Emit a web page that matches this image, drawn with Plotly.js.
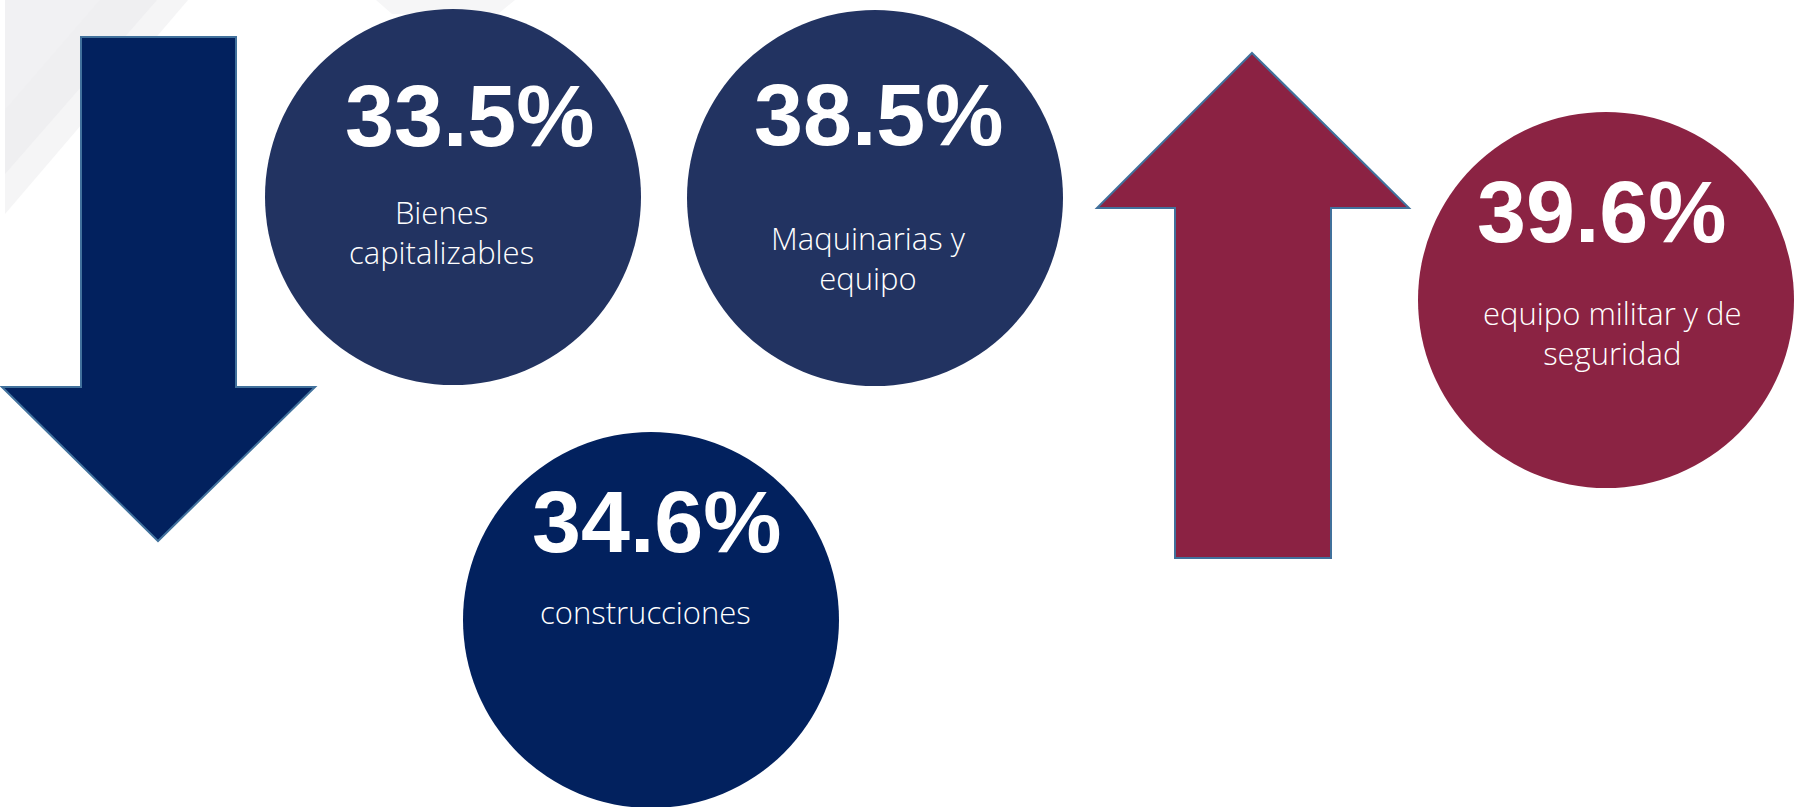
<!DOCTYPE html>
<html>
<head>
<meta charset="utf-8">
<script src="https://cdn.plot.ly/plotly-3.0.1.min.js"></script>
<style>
html,body{margin:0;padding:0;background:#ffffff;overflow:hidden;}
#chart{width:1799px;height:807px;}
</style>
</head>
<body>
<div id="chart"></div>
<script>
// ---- data ----
const categories = ["Bienes<br>capitalizables", "Maquinarias y<br>equipo", "construcciones", "equipo militar y de<br>seguridad"];
const values = [33.5, 38.5, 34.6, 39.6];
const direction = ["down", "down", "down", "up"];

// ---- layout (pixel space) ----
const W = 1799, H = 807;
const circleCenters = [[453, 197], [875, 198], [651, 620], [1606, 300]];
const circleR = 188;
const circleColors = ["#223361", "#223361", "#02215E", "#8B2343"];
const pctPos = [[470, 115], [879, 114], [657, 521], [1602, 211]];
const lblPos = [[441, 232], [868, 258], [645, 612], [1612, 333]];

const shapes = [];
// background faint diagonal stripes
shapes.push({type:"path", path:"M 5,0 L 188,0 L 5,214 Z", fillcolor:"#f5f5f6", line:{width:0}, layer:"below", xref:"x", yref:"y"});
shapes.push({type:"path", path:"M 5,0 L 157,0 L 5,174 Z", fillcolor:"#efeff1", line:{width:0}, layer:"below", xref:"x", yref:"y"});
shapes.push({type:"path", path:"M 5,0 L 100,0 L 5,110 Z", fillcolor:"#f1f1f3", line:{width:0}, layer:"below", xref:"x", yref:"y"});
shapes.push({type:"path", path:"M 376,0 L 515,0 L 498,14 L 392,14 Z", fillcolor:"#f6f6f7", line:{width:0}, layer:"below", xref:"x", yref:"y"});

// down arrow
shapes.push({type:"path", xref:"x", yref:"y",
  path:"M 81,37 L 236,37 L 236,387 L 315,387 L 158,541 L 2,387 L 81,387 Z",
  fillcolor:"#02215E", line:{color:"#41719C", width:2}});
// up arrow
shapes.push({type:"path", xref:"x", yref:"y",
  path:"M 1252,53 L 1409,208 L 1331,208 L 1331,558 L 1175,558 L 1175,208 L 1097,208 Z",
  fillcolor:"#8B2243", line:{color:"#41719C", width:2}});

// circles
circleCenters.forEach((c, i) => {
  shapes.push({type:"circle", xref:"x", yref:"y",
    x0:c[0]-circleR, x1:c[0]+circleR, y0:c[1]-circleR, y1:c[1]+circleR,
    fillcolor:circleColors[i], line:{width:0}});
});

const annotations = [];
values.forEach((v, i) => {
  annotations.push({x:pctPos[i][0], y:pctPos[i][1], xref:"x", yref:"y", showarrow:false,
    text:"<b>" + v.toFixed(1) + "%</b>", xanchor:"center", yanchor:"middle",
    font:{family:"Liberation Sans, Arial, sans-serif", size:88, color:"#ffffff"}});
  annotations.push({x:lblPos[i][0], y:lblPos[i][1], xref:"x", yref:"y", showarrow:false,
    text:categories[i], xanchor:"center", yanchor:"middle", align:"center",
    font:{family:"Open Sans, sans-serif", size:31, color:"#ffffff", weight:300}});
});

const layout = {
  width:W, height:H,
  margin:{l:0, r:0, t:0, b:0},
  paper_bgcolor:"#ffffff", plot_bgcolor:"#ffffff",
  xaxis:{range:[0, W], visible:false, fixedrange:true},
  yaxis:{range:[H, 0], visible:false, fixedrange:true},
  shapes:shapes, annotations:annotations, showlegend:false
};

Plotly.newPlot("chart", [{x:[], y:[], type:"scatter", hoverinfo:"skip"}], layout, {staticPlot:true, displayModeBar:false});
</script>
</body>
</html>
